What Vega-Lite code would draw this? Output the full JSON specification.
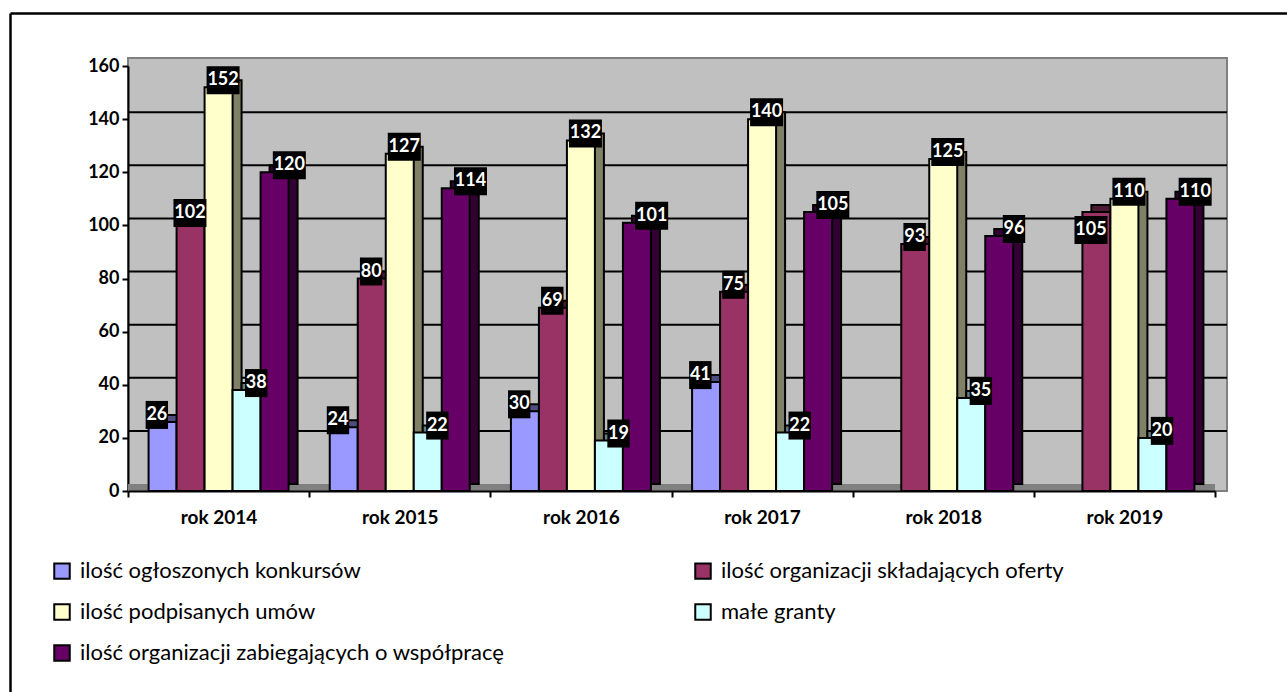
{
  "$schema": "https://vega.github.io/schema/vega-lite/v6.json",
  "width": 1099,
  "height": 433,
  "autosize": "none",
  "padding": {"left": 128, "top": 58, "right": 60, "bottom": 201},
  "background": "white",
  "config": {
    "view": {"fill": "#C0C0C0", "stroke": "#808080", "strokeWidth": 2},
    "axis": {"grid": false, "domainColor": "black", "domainWidth": 2, "tickColor": "black", "tickWidth": 2, "tickSize": 6, "labelFont": "Lato", "labelFontSize": 18, "labelFontWeight": "bold", "labelColor": "black"}
  },
  "datasets": {
    "main": [
      {"year": "rok 2014", "series": "ilość ogłoszonych konkursów", "value": 26},
      {"year": "rok 2014", "series": "ilość organizacji składających oferty", "value": 102},
      {"year": "rok 2014", "series": "ilość podpisanych umów", "value": 152},
      {"year": "rok 2014", "series": "małe granty", "value": 38},
      {"year": "rok 2014", "series": "ilość organizacji zabiegających o współpracę", "value": 120},
      {"year": "rok 2015", "series": "ilość ogłoszonych konkursów", "value": 24},
      {"year": "rok 2015", "series": "ilość organizacji składających oferty", "value": 80},
      {"year": "rok 2015", "series": "ilość podpisanych umów", "value": 127},
      {"year": "rok 2015", "series": "małe granty", "value": 22},
      {"year": "rok 2015", "series": "ilość organizacji zabiegających o współpracę", "value": 114},
      {"year": "rok 2016", "series": "ilość ogłoszonych konkursów", "value": 30},
      {"year": "rok 2016", "series": "ilość organizacji składających oferty", "value": 69},
      {"year": "rok 2016", "series": "ilość podpisanych umów", "value": 132},
      {"year": "rok 2016", "series": "małe granty", "value": 19},
      {"year": "rok 2016", "series": "ilość organizacji zabiegających o współpracę", "value": 101},
      {"year": "rok 2017", "series": "ilość ogłoszonych konkursów", "value": 41},
      {"year": "rok 2017", "series": "ilość organizacji składających oferty", "value": 75},
      {"year": "rok 2017", "series": "ilość podpisanych umów", "value": 140},
      {"year": "rok 2017", "series": "małe granty", "value": 22},
      {"year": "rok 2017", "series": "ilość organizacji zabiegających o współpracę", "value": 105},
      {"year": "rok 2018", "series": "ilość organizacji składających oferty", "value": 93},
      {"year": "rok 2018", "series": "ilość podpisanych umów", "value": 125},
      {"year": "rok 2018", "series": "małe granty", "value": 35},
      {"year": "rok 2018", "series": "ilość organizacji zabiegających o współpracę", "value": 96},
      {"year": "rok 2019", "series": "ilość organizacji składających oferty", "value": 105},
      {"year": "rok 2019", "series": "ilość podpisanych umów", "value": 110},
      {"year": "rok 2019", "series": "małe granty", "value": 20},
      {"year": "rok 2019", "series": "ilość organizacji zabiegających o współpracę", "value": 110}
    ],
    "grid": [{"g": 20}, {"g": 40}, {"g": 60}, {"g": 80}, {"g": 100}, {"g": 120}, {"g": 140}]
  },
  "layer": [
    {
      "layer": [
        {
          "data": {"name": "main"},
          "mark": {"type": "rect", "color": "#808080", "y2Offset": -7},
          "encoding": {
            "x": {"field": "year", "type": "nominal", "title": null},
            "y": {"datum": 0},
            "y2": {"datum": 0}
          }
        },
        {
          "data": {"name": "grid"},
          "mark": {"type": "rule", "color": "black", "strokeWidth": 2, "yOffset": -7},
          "encoding": {
            "y": {"field": "g", "type": "quantitative", "title": null}
          }
        },
        {
          "data": {"name": "main"},
          "mark": {"type": "bar", "stroke": "black", "strokeWidth": 2, "yOffset": -7},
          "encoding": {
            "x": {"field": "year", "type": "nominal", "title": null},
            "xOffset": {"field": "series", "type": "nominal", "scale": {"domain": ["ilość ogłoszonych konkursów", "ilość organizacji składających oferty", "ilość podpisanych umów", "małe granty", "ilość organizacji zabiegających o współpracę"], "range": [9, 190.1667], "paddingInner": 0, "paddingOuter": 0.735}},
            "y": {"field": "value", "type": "quantitative", "title": null},
            "fill": {"field": "series", "type": "nominal", "scale": {"domain": ["ilość organizacji zabiegających o współpracę", "małe granty", "ilość podpisanych umów", "ilość organizacji składających oferty", "ilość ogłoszonych konkursów"], "range": ["#330033", "#668080", "#808066", "#4D1A33", "#4D4D80"]}, "legend": null}
          }
        },
        {
          "data": {"name": "main"},
          "mark": {"type": "bar", "stroke": "black", "strokeWidth": 2},
          "encoding": {
            "x": {"field": "year", "type": "nominal", "title": null, "scale": {"range": [0, 1087], "paddingInner": 0, "paddingOuter": 0}, "axis": {"tickBand": "extent", "labelAngle": 0, "labelAlign": "center", "labelPadding": 20, "labelFontSize": 19}},
            "xOffset": {"field": "series", "type": "nominal", "scale": {"domain": ["ilość ogłoszonych konkursów", "ilość organizacji składających oferty", "ilość podpisanych umów", "małe granty", "ilość organizacji zabiegających o współpracę"], "paddingInner": 0, "paddingOuter": 0.735}},
            "y": {"field": "value", "type": "quantitative", "title": null, "scale": {"domain": [0, 160], "range": [433, 8], "nice": false}, "axis": {"values": [0, 20, 40, 60, 80, 100, 120, 140, 160], "labelPadding": 3}},
            "color": {"field": "series", "type": "nominal", "scale": {"domain": ["ilość ogłoszonych konkursów", "ilość organizacji składających oferty", "ilość podpisanych umów", "małe granty", "ilość organizacji zabiegających o współpracę"], "range": ["#9999FF", "#993366", "#FFFFCC", "#CCFFFF", "#660066"]},
              "legend": {"title": null, "orient": "none", "direction": "horizontal", "legendX": -77, "legendY": 502, "columns": 2, "columnPadding": 186, "rowPadding": 17, "symbolType": "square", "symbolSize": 240, "symbolStrokeColor": "black", "symbolStrokeWidth": 2, "labelFont": "Lato", "labelFontSize": 22, "labelColor": "black", "labelLimit": 700, "labelOffset": 7, "padding": 0}}
          }
        },
        {
          "data": {"name": "main"},
          "mark": {"type": "point", "filled": true, "opacity": 1, "color": "black", "strokeWidth": 0, "size": 784},
          "encoding": {
            "x": {"field": "year", "type": "nominal", "title": null},
            "xOffset": {"field": "series", "type": "nominal", "scale": {"domain": ["ilość ogłoszonych konkursów", "ilość organizacji składających oferty", "ilość podpisanych umów", "małe granty", "ilość organizacji zabiegających o współpracę"], "paddingInner": 0, "paddingOuter": 0.735}},
            "y": {"field": "value", "type": "quantitative", "title": null},
            "shape": {
              "condition": [
                {"test": "datum.year == 'rok 2019' && datum.series == 'ilość organizacji składających oferty'", "value": "M-1.2,0.286H1.157V2.286H-1.2Z"},
                {"test": "datum.value >= 100", "value": "M-0.857,-1.5H1.5V0.5H-0.857Z"}
              ],
              "value": "M-0.479,-1.5H1.121V0.5H-0.479Z"
            }
          }
        },
        {
          "data": {"name": "main"},
          "transform": [{"filter": "!(datum.year == 'rok 2019' && datum.series == 'ilość organizacji składających oferty')"}],
          "mark": {"type": "text", "font": "Lato", "fontSize": 18, "fontWeight": "bold", "fill": "white", "dx": 4.5, "dy": -7, "baseline": "middle", "align": "center"},
          "encoding": {
            "x": {"field": "year", "type": "nominal", "title": null},
            "xOffset": {"field": "series", "type": "nominal", "scale": {"domain": ["ilość ogłoszonych konkursów", "ilość organizacji składających oferty", "ilość podpisanych umów", "małe granty", "ilość organizacji zabiegających o współpracę"], "paddingInner": 0, "paddingOuter": 0.735}},
            "y": {"field": "value", "type": "quantitative", "title": null},
            "text": {"field": "value", "type": "quantitative"}
          }
        },
        {
          "data": {"name": "main"},
          "transform": [{"filter": "datum.year == 'rok 2019' && datum.series == 'ilość organizacji składających oferty'"}],
          "mark": {"type": "text", "font": "Lato", "fontSize": 18, "fontWeight": "bold", "fill": "white", "dx": -0.3, "dy": 18, "baseline": "middle", "align": "center"},
          "encoding": {
            "x": {"field": "year", "type": "nominal", "title": null},
            "xOffset": {"field": "series", "type": "nominal", "scale": {"domain": ["ilość ogłoszonych konkursów", "ilość organizacji składających oferty", "ilość podpisanych umów", "małe granty", "ilość organizacji zabiegających o współpracę"], "paddingInner": 0, "paddingOuter": 0.735}},
            "y": {"field": "value", "type": "quantitative", "title": null},
            "text": {"field": "value", "type": "quantitative"}
          }
        }
      ],
      "resolve": {"scale": {"xOffset": "independent"}}
    },
    {
      "data": {"name": "grid"},
      "mark": {"type": "point", "opacity": 0},
      "encoding": {
        "x": {"field": "g", "type": "quantitative", "title": null, "scale": {"domain": [0, 1], "range": [-118, 1162]}, "axis": {"orient": "top", "offset": 45, "ticks": false, "labels": false, "grid": false, "domainWidth": 2.5, "domainColor": "black"}},
        "y": {"field": "g", "type": "quantitative", "title": null, "scale": {"domain": [0, 1], "range": [642, -45]}, "axis": {"orient": "left", "offset": 118, "ticks": false, "labels": false, "grid": false, "domainWidth": 2.5, "domainColor": "black"}}
      }
    }
  ],
  "resolve": {"scale": {"x": "independent", "y": "independent"}, "axis": {"x": "independent", "y": "independent"}}
}
